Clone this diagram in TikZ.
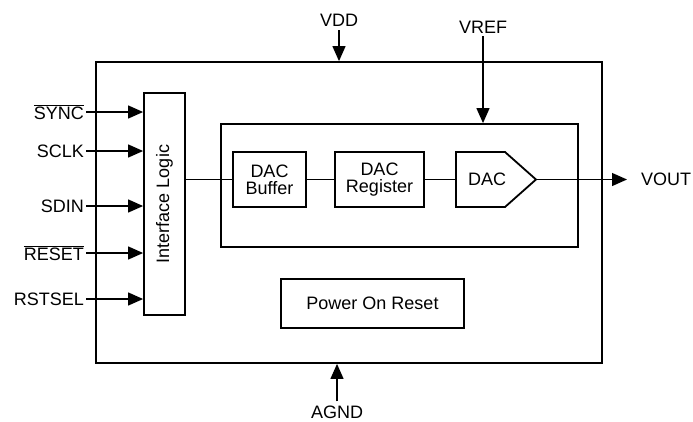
\documentclass[tikz,border=0pt]{standalone}
\usepackage{fontspec}
\setmainfont{Liberation Sans}
\usetikzlibrary{arrows.meta}
\begin{document}
\begin{tikzpicture}[x=1pt,y=-1pt,
  every node/.style={font=\fontsize{18}{20}\selectfont},
  blk/.style={draw, line width=1.8pt, inner sep=0pt, align=center},
  lbl/.style={inner sep=2pt},
  arr/.style={line width=1.2pt, -{Triangle[length=15pt,width=13pt]}},
  wire/.style={line width=1.2pt}]
\useasboundingbox (0,0) rectangle (693,421);
% boxes
\node[blk, minimum width=506pt, minimum height=301pt] (outer) at (349,212.5) {};
\node[blk, minimum width=41pt, minimum height=222pt] (il) at (164.5,204) {};
\node[rotate=90] at (il.center) {Interface Logic};
\node[blk, minimum width=357pt, minimum height=123pt] (inner) at (399.5,185.5) {};
\node[blk, line width=2.8pt, minimum width=73pt, minimum height=55pt] (buf) at (269.5,179.5) {DAC\\[-3pt]Buffer};
\node[blk, minimum width=89pt, minimum height=55pt] (reg) at (379.5,179.5) {DAC\\[-3pt]Register};
\draw[line width=1.8pt, line join=miter] (456,152) -- (505,152) -- (536,179.5) -- (505,207) -- (456,207) -- cycle;
\coordinate (dacin) at (456,179.5);
\coordinate (dactip) at (536,179.5);
\node (dac) at (487,179.5) {DAC};
\node[blk, minimum width=183pt, minimum height=49pt] (por) at (372.5,303.5) {Power On Reset};
% internal wires
\draw[wire] (buf.west -| il.east) -- (buf.west);
\draw[wire] (buf.east) -- (reg.west);
\draw[wire] (reg.east) -- (dacin);
% inputs
\node[lbl, anchor=east] (sync) at (86,112) {$\overline{\mbox{SYNC}}$};
\node[lbl, anchor=east] (sclk) at (86,151) {SCLK};
\node[lbl, anchor=east] (sdin) at (86,206) {SDIN};
\node[lbl, anchor=east] (rst) at (86,253) {$\overline{\mbox{RESET}}$};
\node[lbl, anchor=east] (rsel) at (86,299) {RSTSEL};
\foreach \n in {sync,sclk,sdin,rst,rsel}
  \draw[arr] (\n.east) -- (\n.east -| il.west);
% power & ref
\node[lbl] (vdd) at (339,20) {VDD};
\draw[arr] (vdd.south) ++(0,2) -- (vdd.south |- outer.north);
\node[lbl] (vref) at (483,27) {VREF};
\draw[arr] (vref.south) ++(0,1) -- (vref.south |- inner.north);
\node[lbl] (agnd) at (337,412) {AGND};
\draw[arr] (agnd.north) ++(0,-2) -- (agnd.north |- outer.south);
% output
\coordinate (voutend) at (627,179.5);
\node[lbl, anchor=west] (vout) at (639,179.5) {VOUT};
\draw[arr] (dactip) -- (voutend);
\end{tikzpicture}
\end{document}
